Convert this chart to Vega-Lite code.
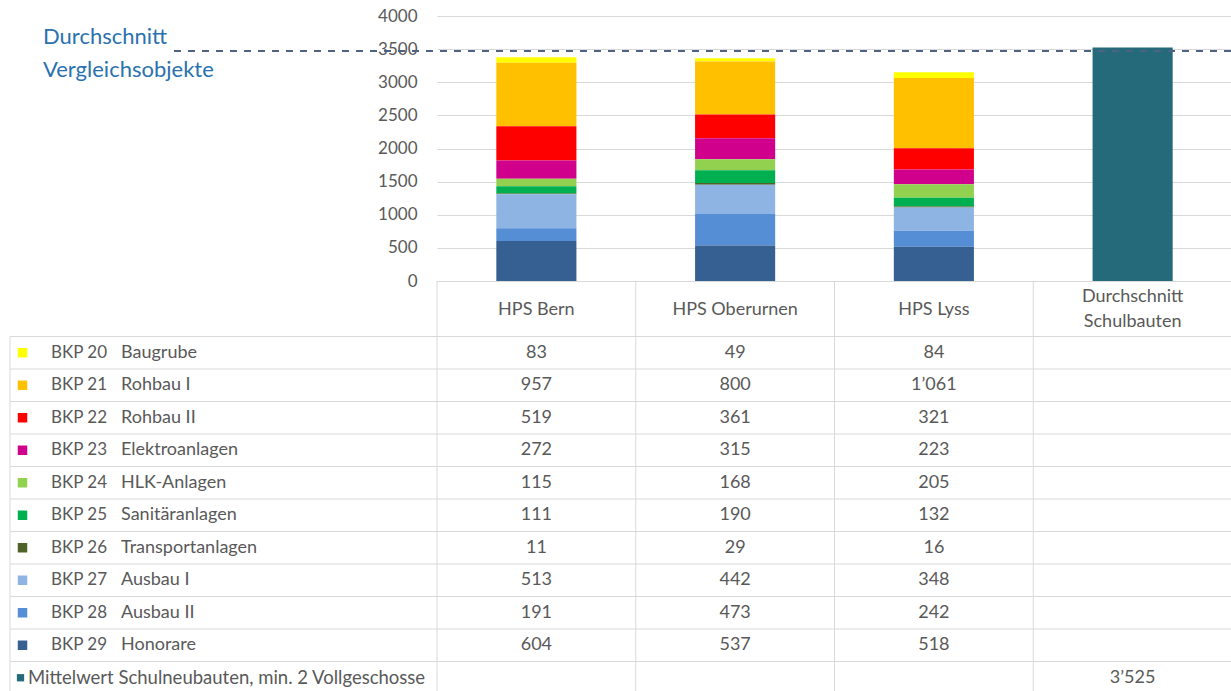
{
  "$schema": "https://vega.github.io/schema/vega-lite/v6.json",
  "width": 1231,
  "height": 691,
  "autosize": "none",
  "padding": 0,
  "background": "#ffffff",
  "config": {
    "view": {"stroke": null},
    "font": "Lato",
    "locale": {"number": {"decimal": ".", "thousands": "’", "grouping": [3], "currency": ["", ""]}}
  },
  "datasets": {
    "costs": [
      {"project": "HPS Bern", "code": "BKP 20", "value": 83},
      {"project": "HPS Bern", "code": "BKP 21", "value": 957},
      {"project": "HPS Bern", "code": "BKP 22", "value": 519},
      {"project": "HPS Bern", "code": "BKP 23", "value": 272},
      {"project": "HPS Bern", "code": "BKP 24", "value": 115},
      {"project": "HPS Bern", "code": "BKP 25", "value": 111},
      {"project": "HPS Bern", "code": "BKP 26", "value": 11},
      {"project": "HPS Bern", "code": "BKP 27", "value": 513},
      {"project": "HPS Bern", "code": "BKP 28", "value": 191},
      {"project": "HPS Bern", "code": "BKP 29", "value": 604},
      {"project": "HPS Oberurnen", "code": "BKP 20", "value": 49},
      {"project": "HPS Oberurnen", "code": "BKP 21", "value": 800},
      {"project": "HPS Oberurnen", "code": "BKP 22", "value": 361},
      {"project": "HPS Oberurnen", "code": "BKP 23", "value": 315},
      {"project": "HPS Oberurnen", "code": "BKP 24", "value": 168},
      {"project": "HPS Oberurnen", "code": "BKP 25", "value": 190},
      {"project": "HPS Oberurnen", "code": "BKP 26", "value": 29},
      {"project": "HPS Oberurnen", "code": "BKP 27", "value": 442},
      {"project": "HPS Oberurnen", "code": "BKP 28", "value": 473},
      {"project": "HPS Oberurnen", "code": "BKP 29", "value": 537},
      {"project": "HPS Lyss", "code": "BKP 20", "value": 84},
      {"project": "HPS Lyss", "code": "BKP 21", "value": 1061},
      {"project": "HPS Lyss", "code": "BKP 22", "value": 321},
      {"project": "HPS Lyss", "code": "BKP 23", "value": 223},
      {"project": "HPS Lyss", "code": "BKP 24", "value": 205},
      {"project": "HPS Lyss", "code": "BKP 25", "value": 132},
      {"project": "HPS Lyss", "code": "BKP 26", "value": 16},
      {"project": "HPS Lyss", "code": "BKP 27", "value": 348},
      {"project": "HPS Lyss", "code": "BKP 28", "value": 242},
      {"project": "HPS Lyss", "code": "BKP 29", "value": 518},
      {"project": "Durchschnitt Schulbauten", "code": "Mittelwert", "value": 3525}
    ],
    "rows": [
      {"code": "BKP 20", "name": "Baugrube", "kind": "BKP"},
      {"code": "BKP 21", "name": "Rohbau I", "kind": "BKP"},
      {"code": "BKP 22", "name": "Rohbau II", "kind": "BKP"},
      {"code": "BKP 23", "name": "Elektroanlagen", "kind": "BKP"},
      {"code": "BKP 24", "name": "HLK-Anlagen", "kind": "BKP"},
      {"code": "BKP 25", "name": "Sanitäranlagen", "kind": "BKP"},
      {"code": "BKP 26", "name": "Transportanlagen", "kind": "BKP"},
      {"code": "BKP 27", "name": "Ausbau I", "kind": "BKP"},
      {"code": "BKP 28", "name": "Ausbau II", "kind": "BKP"},
      {"code": "BKP 29", "name": "Honorare", "kind": "BKP"},
      {"code": "Mittelwert", "name": "Mittelwert Schulneubauten, min. 2 Vollgeschosse", "kind": "Mittelwert"}
    ],
    "projects": [
      {"project": "HPS Bern", "header": "HPS Bern", "lines": 1},
      {"project": "HPS Oberurnen", "header": "HPS Oberurnen", "lines": 1},
      {"project": "HPS Lyss", "header": "HPS Lyss", "lines": 1},
      {"project": "Durchschnitt Schulbauten", "header": "Durchschnitt\nSchulbauten", "lines": 2}
    ],
    "reference": [
      {"label": "Durchschnitt\nVergleichsobjekte", "value": 3470}
    ]
  },
  "layer": [
    {
      "data": {"name": "costs"},
      "mark": {"type": "bar", "width": {"band": 0.403}},
      "encoding": {
        "x": {"field": "project", "type": "nominal", "scale": {"domain": ["HPS Bern", "HPS Oberurnen", "HPS Lyss", "Durchschnitt Schulbauten"], "range": [437, 1232], "paddingInner": 0, "paddingOuter": 0}, "axis": null},
        "y": {"field": "value", "type": "quantitative", "stack": "zero",
          "scale": {"domain": [0, 4000], "range": [281, 16], "nice": false},
          "axis": {"orient": "left", "values": [0, 500, 1000, 1500, 2000, 2500, 3000, 3500, 4000], "format": "d", "grid": true, "gridColor": "#d9d9d9", "gridWidth": 1, "domain": false, "ticks": false, "tickSize": 0, "labelPadding": 20, "offset": -437, "labelFontSize": 17, "labelColor": "#595959", "title": null}},
        "color": {"field": "code", "type": "nominal",
          "scale": {"domain": ["BKP 20", "BKP 21", "BKP 22", "BKP 23", "BKP 24", "BKP 25", "BKP 26", "BKP 27", "BKP 28", "BKP 29", "Mittelwert"],
            "range": ["#FFFF00", "#FFC000", "#FF0000", "#D0008C", "#92D050", "#00B050", "#4F6228", "#8EB4E3", "#558ED5", "#376092", "#246A7B"]},
          "legend": null},
        "order": {"field": "code", "type": "ordinal", "sort": "descending"}
      }
    },
    {
      "data": {"name": "reference"},
      "mark": {"type": "rule", "strokeDash": [7, 7], "strokeWidth": 2, "color": "#4e6283"},
      "encoding": {
        "y": {"field": "value", "type": "quantitative", "scale": {"domain": [0, 4000], "range": [281, 16], "nice": false}, "axis": null},
        "x": {"datum": 0, "type": "quantitative", "scale": {"domain": [0, 1], "range": [174, 1231]}, "axis": null},
        "x2": {"datum": 1}
      }
    },
    {
      "data": {"name": "reference"},
      "mark": {"type": "text", "align": "left", "baseline": "middle", "lineBreak": "\n", "lineHeight": 33, "fontSize": 22, "color": "#2a72ae", "dy": -14},
      "encoding": {
        "y": {"field": "value", "type": "quantitative", "scale": {"domain": [0, 4000], "range": [281, 16], "nice": false}, "axis": null},
        "x": {"datum": 0, "type": "quantitative", "scale": {"domain": [0, 1], "range": [43, 1231]}, "axis": null},
        "text": {"field": "label"}
      }
    },
    {
      "data": {"name": "rows"},
      "mark": {"type": "rule", "color": "#d9d9d9", "strokeWidth": 1},
      "encoding": {
        "y": {"field": "code", "type": "nominal", "bandPosition": 0, "scale": {"domain": ["BKP 20", "BKP 21", "BKP 22", "BKP 23", "BKP 24", "BKP 25", "BKP 26", "BKP 27", "BKP 28", "BKP 29", "Mittelwert"], "range": [336.5, 694], "paddingInner": 0, "paddingOuter": 0}, "axis": null},
        "x": {"datum": 0, "type": "quantitative", "scale": {"domain": [0, 1], "range": [10, 1231]}, "axis": null},
        "x2": {"datum": 1}
      }
    },
    {
      "data": {"name": "projects"},
      "mark": {"type": "rule", "color": "#d9d9d9", "strokeWidth": 1},
      "encoding": {
        "x": {"field": "project", "type": "nominal", "bandPosition": 0, "scale": {"domain": ["HPS Bern", "HPS Oberurnen", "HPS Lyss", "Durchschnitt Schulbauten"], "range": [437, 1232], "paddingInner": 0, "paddingOuter": 0}, "axis": null},
        "y": {"datum": 0, "type": "quantitative", "scale": {"domain": [0, 1], "range": [281, 694]}, "axis": null},
        "y2": {"datum": 1}
      }
    },
    {
      "data": {"values": [{"rand": "links"}]},
      "mark": {"type": "rule", "color": "#d9d9d9", "strokeWidth": 1},
      "encoding": {
        "x": {"datum": 0, "type": "quantitative", "scale": {"domain": [0, 1], "range": [10, 1231]}, "axis": null},
        "y": {"datum": 0, "type": "quantitative", "scale": {"domain": [0, 1], "range": [336.5, 694]}, "axis": null},
        "y2": {"datum": 1}
      }
    },
    {
      "data": {"name": "projects"},
      "transform": [{"filter": "datum.lines === 1"}],
      "mark": {"type": "text", "fontSize": 18, "color": "#595959", "baseline": "middle", "dy": 1},
      "encoding": {
        "x": {"field": "project", "type": "nominal", "scale": {"domain": ["HPS Bern", "HPS Oberurnen", "HPS Lyss", "Durchschnitt Schulbauten"], "range": [437, 1232], "paddingInner": 0, "paddingOuter": 0}, "axis": null},
        "y": {"datum": "Kopfzeile", "type": "nominal", "scale": {"domain": ["Kopfzeile"], "range": [281, 337], "paddingInner": 0, "paddingOuter": 0}, "axis": null},
        "text": {"field": "header"}
      }
    },
    {
      "data": {"name": "projects"},
      "transform": [{"filter": "datum.lines === 2"}],
      "mark": {"type": "text", "fontSize": 18, "color": "#595959", "lineBreak": "\n", "lineHeight": 25, "baseline": "middle", "dy": -12},
      "encoding": {
        "x": {"field": "project", "type": "nominal", "scale": {"domain": ["HPS Bern", "HPS Oberurnen", "HPS Lyss", "Durchschnitt Schulbauten"], "range": [437, 1232], "paddingInner": 0, "paddingOuter": 0}, "axis": null},
        "y": {"datum": "Kopfzeile", "type": "nominal", "scale": {"domain": ["Kopfzeile"], "range": [281, 337], "paddingInner": 0, "paddingOuter": 0}, "axis": null},
        "text": {"field": "header"}
      }
    },
    {
      "data": {"name": "costs"},
      "mark": {"type": "text", "fontSize": 18, "color": "#595959", "baseline": "middle"},
      "encoding": {
        "x": {"field": "project", "type": "nominal", "scale": {"domain": ["HPS Bern", "HPS Oberurnen", "HPS Lyss", "Durchschnitt Schulbauten"], "range": [437, 1232], "paddingInner": 0, "paddingOuter": 0}, "axis": null},
        "y": {"field": "code", "type": "nominal", "scale": {"domain": ["BKP 20", "BKP 21", "BKP 22", "BKP 23", "BKP 24", "BKP 25", "BKP 26", "BKP 27", "BKP 28", "BKP 29", "Mittelwert"], "range": [336.5, 694], "paddingInner": 0, "paddingOuter": 0}, "axis": null},
        "text": {"field": "value", "type": "quantitative", "format": ",d"}
      }
    },
    {
      "data": {"name": "rows"},
      "transform": [{"filter": "datum.kind === 'BKP'"}],
      "mark": {"type": "point", "shape": "square", "filled": true, "size": 90, "opacity": 1},
      "encoding": {
        "x": {"datum": 0, "type": "quantitative", "scale": {"domain": [0, 1], "range": [22.5, 1231]}, "axis": null},
        "y": {"field": "code", "type": "nominal", "scale": {"domain": ["BKP 20", "BKP 21", "BKP 22", "BKP 23", "BKP 24", "BKP 25", "BKP 26", "BKP 27", "BKP 28", "BKP 29", "Mittelwert"], "range": [336.5, 694], "paddingInner": 0, "paddingOuter": 0}, "axis": null},
        "color": {"field": "code", "type": "nominal",
          "scale": {"domain": ["BKP 20", "BKP 21", "BKP 22", "BKP 23", "BKP 24", "BKP 25", "BKP 26", "BKP 27", "BKP 28", "BKP 29", "Mittelwert"],
            "range": ["#FFFF00", "#FFC000", "#FF0000", "#D0008C", "#92D050", "#00B050", "#4F6228", "#8EB4E3", "#558ED5", "#376092", "#246A7B"]},
          "legend": null}
      }
    },
    {
      "data": {"name": "rows"},
      "transform": [{"filter": "datum.kind === 'BKP'"}],
      "mark": {"type": "text", "fontSize": 17, "color": "#595959", "align": "left", "baseline": "middle"},
      "encoding": {
        "x": {"datum": 0, "type": "quantitative", "scale": {"domain": [0, 1], "range": [51, 1231]}, "axis": null},
        "y": {"field": "code", "type": "nominal", "scale": {"domain": ["BKP 20", "BKP 21", "BKP 22", "BKP 23", "BKP 24", "BKP 25", "BKP 26", "BKP 27", "BKP 28", "BKP 29", "Mittelwert"], "range": [336.5, 694], "paddingInner": 0, "paddingOuter": 0}, "axis": null},
        "text": {"field": "code"}
      }
    },
    {
      "data": {"name": "rows"},
      "transform": [{"filter": "datum.kind === 'BKP'"}],
      "mark": {"type": "text", "fontSize": 18, "color": "#595959", "align": "left", "baseline": "middle"},
      "encoding": {
        "x": {"datum": 0, "type": "quantitative", "scale": {"domain": [0, 1], "range": [121, 1231]}, "axis": null},
        "y": {"field": "code", "type": "nominal", "scale": {"domain": ["BKP 20", "BKP 21", "BKP 22", "BKP 23", "BKP 24", "BKP 25", "BKP 26", "BKP 27", "BKP 28", "BKP 29", "Mittelwert"], "range": [336.5, 694], "paddingInner": 0, "paddingOuter": 0}, "axis": null},
        "text": {"field": "name"}
      }
    },
    {
      "data": {"name": "rows"},
      "transform": [{"filter": "datum.kind === 'Mittelwert'"}],
      "mark": {"type": "point", "shape": "square", "filled": true, "size": 53, "opacity": 1, "color": "#246A7B"},
      "encoding": {
        "x": {"datum": 0, "type": "quantitative", "scale": {"domain": [0, 1], "range": [20.5, 1231]}, "axis": null},
        "y": {"field": "code", "type": "nominal", "scale": {"domain": ["BKP 20", "BKP 21", "BKP 22", "BKP 23", "BKP 24", "BKP 25", "BKP 26", "BKP 27", "BKP 28", "BKP 29", "Mittelwert"], "range": [336.5, 694], "paddingInner": 0, "paddingOuter": 0}, "axis": null}
      }
    },
    {
      "data": {"name": "rows"},
      "transform": [{"filter": "datum.kind === 'Mittelwert'"}],
      "mark": {"type": "text", "fontSize": 18.5, "color": "#595959", "align": "left", "baseline": "middle"},
      "encoding": {
        "x": {"datum": 0, "type": "quantitative", "scale": {"domain": [0, 1], "range": [28, 1231]}, "axis": null},
        "y": {"field": "code", "type": "nominal", "scale": {"domain": ["BKP 20", "BKP 21", "BKP 22", "BKP 23", "BKP 24", "BKP 25", "BKP 26", "BKP 27", "BKP 28", "BKP 29", "Mittelwert"], "range": [336.5, 694], "paddingInner": 0, "paddingOuter": 0}, "axis": null},
        "text": {"field": "name"}
      }
    }
  ],
  "resolve": {
    "scale": {"x": "independent", "y": "independent", "color": "independent"},
    "axis": {"x": "independent", "y": "independent"}
  }
}
